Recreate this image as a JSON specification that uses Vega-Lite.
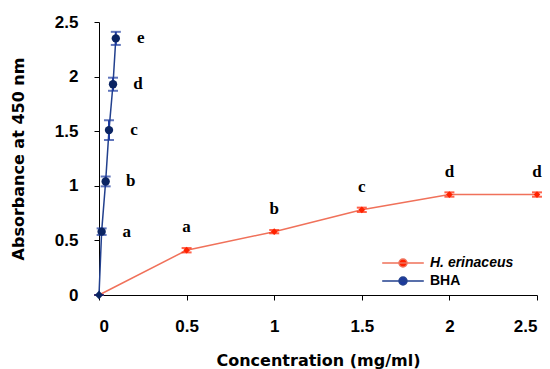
{
  "$schema": "https://vega.github.io/schema/vega-lite/v6.json",
  "width": 438,
  "height": 273,
  "autosize": {"type": "none"},
  "padding": {"left": 99, "top": 22, "right": 13, "bottom": 74},
  "background": "white",
  "config": {
    "view": {"stroke": null},
    "axis": {
      "grid": false,
      "domainColor": "black",
      "domainWidth": 1,
      "tickColor": "black",
      "tickSize": 5,
      "labelFont": "Liberation Sans",
      "labelFontWeight": "bold",
      "labelFontSize": 17,
      "labelColor": "black",
      "titleFont": "DejaVu Sans",
      "titleFontWeight": "bold",
      "titleFontSize": 16,
      "titleColor": "black"
    }
  },
  "data": {
    "values": [
      {"series": "H. erinaceus", "conc": 0, "abs": 0, "lo": 0, "hi": 0, "letter": ""},
      {"series": "H. erinaceus", "conc": 0.5, "abs": 0.41, "lo": 0.39, "hi": 0.43, "letter": "a"},
      {"series": "H. erinaceus", "conc": 1, "abs": 0.58, "lo": 0.565, "hi": 0.595, "letter": "b"},
      {"series": "H. erinaceus", "conc": 1.5, "abs": 0.78, "lo": 0.76, "hi": 0.8, "letter": "c"},
      {"series": "H. erinaceus", "conc": 2, "abs": 0.92, "lo": 0.9, "hi": 0.94, "letter": "d"},
      {"series": "H. erinaceus", "conc": 2.5, "abs": 0.92, "lo": 0.9, "hi": 0.94, "letter": "d"},
      {"series": "BHA", "conc": 0, "abs": 0, "lo": 0, "hi": 0, "letter": ""},
      {"series": "BHA", "conc": 0.015, "abs": 0.58, "lo": 0.55, "hi": 0.61, "letter": "a"},
      {"series": "BHA", "conc": 0.038, "abs": 1.04, "lo": 0.995, "hi": 1.085, "letter": "b"},
      {"series": "BHA", "conc": 0.057, "abs": 1.51, "lo": 1.42, "hi": 1.6, "letter": "c"},
      {"series": "BHA", "conc": 0.08, "abs": 1.93, "lo": 1.87, "hi": 1.99, "letter": "d"},
      {"series": "BHA", "conc": 0.096, "abs": 2.35, "lo": 2.29, "hi": 2.41, "letter": "e"}
    ]
  },
  "encoding": {
    "x": {
      "field": "conc",
      "type": "quantitative",
      "scale": {"domain": [0, 2.5], "nice": false},
      "axis": {
        "values": [0, 0.5, 1, 1.5, 2, 2.5],
        "format": "~g",
        "labelPadding": 18,
        "title": "Concentration (mg/ml)",
        "titlePadding": 18
      }
    },
    "y": {
      "field": "abs",
      "type": "quantitative",
      "scale": {"domain": [0, 2.5], "nice": false},
      "axis": {
        "values": [0, 0.5, 1, 1.5, 2, 2.5],
        "format": "~g",
        "labelPadding": 16,
        "title": "Absorbance at 450 nm",
        "titlePadding": 28
      }
    }
  },
  "layer": [
    {
      "mark": {"type": "line", "strokeWidth": 1.5},
      "encoding": {
        "stroke": {
          "field": "series",
          "type": "nominal",
          "scale": {"domain": ["H. erinaceus", "BHA"], "range": ["#F0715A", "#22408E"]},
          "legend": {
            "title": null,
            "orient": "none",
            "legendX": 295,
            "legendY": 232,
            "padding": 0,
            "rowPadding": 2,
            "symbolType": "M-2.6,0H2.6M0.5,0A0.5,0.5,0,1,1,-0.5,0A0.5,0.5,0,1,1,0.5,0Z",
            "symbolSize": 256,
            "symbolStrokeWidth": 1.5,
            "symbolFillColor": {"expr": "datum.label == 'BHA' ? '#0A2463' : '#F4602A'"},
            "symbolStrokeColor": {"expr": "datum.label == 'BHA' ? '#0A2463' : '#F4602A'"},
            "labelOffset": 18,
            "labelFont": "Liberation Sans",
            "labelFontWeight": "bold",
            "labelFontSize": 14,
            "labelColor": "black",
            "labelFontStyle": {"expr": "datum.label == 'H. erinaceus' ? 'italic' : 'normal'"}
          }
        }
      }
    },
    {
      "mark": {"type": "errorbar", "thickness": 2, "ticks": {"size": 10, "thickness": 2}},
      "encoding": {
        "y": {"field": "lo", "type": "quantitative"},
        "y2": {"field": "hi"},
        "color": {
          "field": "series",
          "type": "nominal",
          "scale": {"domain": ["H. erinaceus", "BHA"], "range": ["#FF2200", "#1C3A9E"]},
          "legend": null
        }
      }
    },
    {
      "transform": [{"filter": "datum.series == 'H. erinaceus' && datum.conc > 0"}],
      "mark": {"type": "point", "filled": true, "opacity": 1, "shape": "diamond", "size": 45, "color": "#FF2200"}
    },
    {
      "transform": [{"filter": "datum.series == 'BHA' && datum.conc > 0"}],
      "mark": {"type": "point", "filled": true, "opacity": 1, "shape": "circle", "size": 70, "color": "#0A2463"}
    },
    {
      "transform": [{"filter": "datum.series == 'BHA' && datum.conc == 0"}],
      "mark": {"type": "point", "filled": true, "opacity": 1, "shape": "diamond", "size": 70, "color": "#0A2463"}
    },
    {
      "transform": [{"filter": "datum.series == 'H. erinaceus'"}],
      "mark": {"type": "text", "dy": -23, "font": "Liberation Serif", "fontWeight": "bold", "fontSize": 17, "color": "black"},
      "encoding": {"text": {"field": "letter"}}
    },
    {
      "transform": [{"filter": "datum.series == 'BHA'"}],
      "mark": {"type": "text", "dx": 25, "font": "Liberation Serif", "fontWeight": "bold", "fontSize": 17, "color": "black"},
      "encoding": {"text": {"field": "letter"}}
    }
  ]
}
